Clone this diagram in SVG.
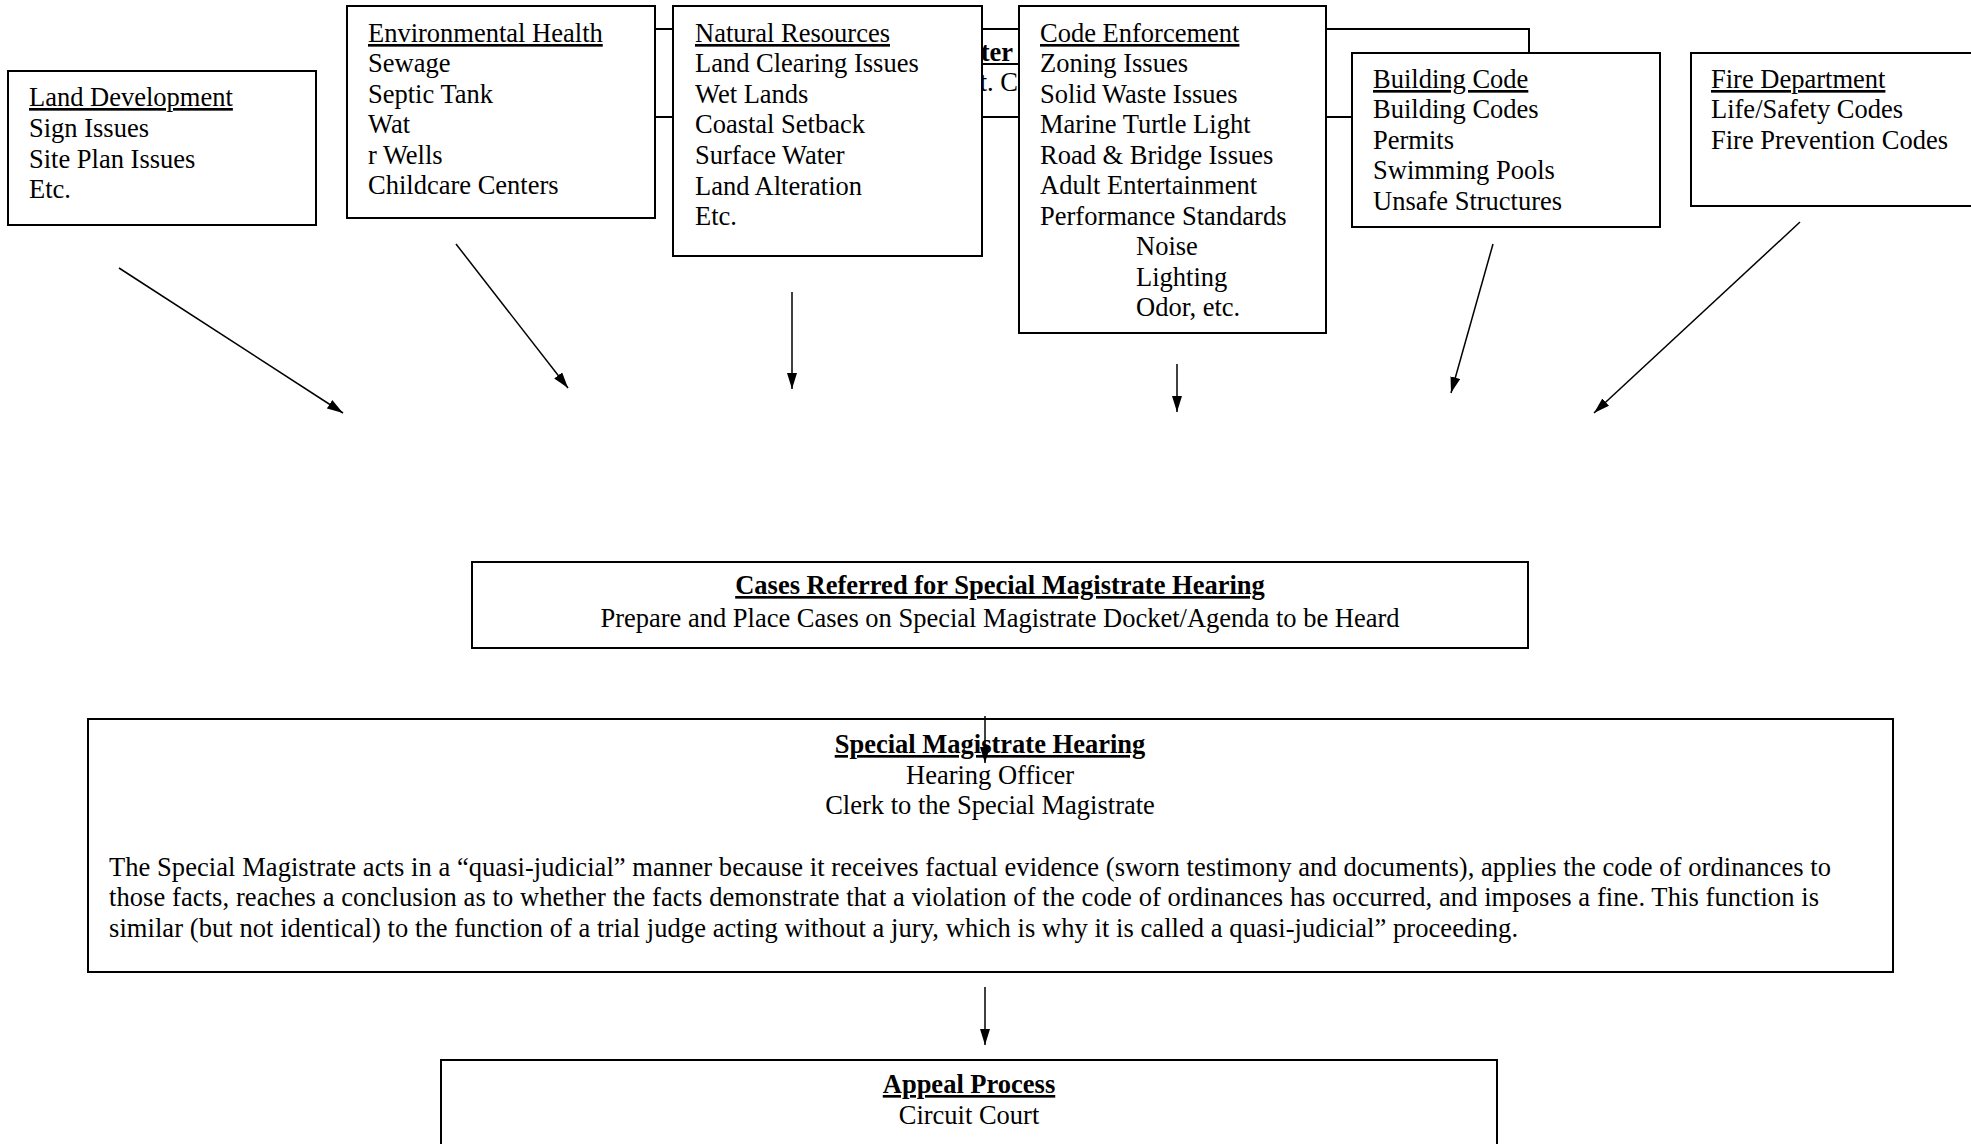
<svg xmlns="http://www.w3.org/2000/svg" width="1971" height="1144" viewBox="0 0 1971 1144">
<defs>
<style>
.box{fill:#fff;stroke:#000;stroke-width:2}
.t{font-family:"Liberation Serif","Times New Roman",serif;font-size:26.5px;fill:#000}
.h{text-decoration:underline}
.b{font-weight:bold;text-decoration:underline}
.c{text-anchor:middle}
.ln{stroke:#000;stroke-width:2;fill:none}
.ar{stroke:#000;stroke-width:1.5;fill:none;marker-end:url(#ah)}
</style>
<marker id="ah" markerUnits="userSpaceOnUse" markerWidth="16" markerHeight="10" refX="16" refY="5" orient="auto">
<path d="M0,0 L16,5 L0,10 z" fill="#000"/>
</marker>
</defs>
<rect width="1971" height="1144" fill="#fff"/>

<g id="hidden-center">
<rect class="box" x="500" y="29" width="1029" height="88"/>
<text class="t" x="1013" y="61" text-anchor="end" font-weight="bold">ter</text>
<line x1="975" y1="64" x2="1019" y2="64" stroke="#000" stroke-width="2"/>
<text class="t" x="1018" y="91" text-anchor="end">t. C</text>
</g>

<g id="land-development">
<rect class="box" x="8" y="71" width="308" height="154"/>
<text class="t" x="29"><tspan class="h" x="29" y="106">Land Development</tspan><tspan x="29" y="137">Sign Issues</tspan><tspan x="29" y="168">Site Plan Issues</tspan><tspan x="29" y="198">Etc.</tspan></text>
</g>

<g id="environmental-health">
<rect class="box" x="347" y="6" width="308" height="212"/>
<text class="t"><tspan class="h" x="368" y="42">Environmental Health</tspan><tspan x="368" y="72">Sewage</tspan><tspan x="368" y="103">Septic Tank</tspan><tspan x="368" y="133">Wat</tspan><tspan x="368" y="164">r Wells</tspan><tspan x="368" y="194">Childcare Centers</tspan></text>
</g>

<g id="natural-resources">
<rect class="box" x="673" y="6" width="309" height="250"/>
<text class="t"><tspan class="h" x="695" y="42">Natural Resources</tspan><tspan x="695" y="72">Land Clearing Issues</tspan><tspan x="695" y="103">Wet Lands</tspan><tspan x="695" y="133">Coastal Setback</tspan><tspan x="695" y="164">Surface Water</tspan><tspan x="695" y="195">Land Alteration</tspan><tspan x="695" y="225">Etc.</tspan></text>
</g>

<g id="code-enforcement">
<rect class="box" x="1019" y="6" width="307" height="327"/>
<text class="t"><tspan class="h" x="1040" y="42">Code Enforcement</tspan><tspan x="1040" y="72">Zoning Issues</tspan><tspan x="1040" y="103">Solid Waste Issues</tspan><tspan x="1040" y="133">Marine Turtle Light</tspan><tspan x="1040" y="164">Road &amp; Bridge Issues</tspan><tspan x="1040" y="194">Adult Entertainment</tspan><tspan x="1040" y="225">Performance Standards</tspan><tspan x="1136" y="255">Noise</tspan><tspan x="1136" y="286">Lighting</tspan><tspan x="1136" y="316">Odor, etc.</tspan></text>
</g>

<g id="building-code">
<rect class="box" x="1352" y="53" width="308" height="174"/>
<text class="t"><tspan class="h" x="1373" y="88">Building Code</tspan><tspan x="1373" y="118">Building Codes</tspan><tspan x="1373" y="149">Permits</tspan><tspan x="1373" y="179">Swimming Pools</tspan><tspan x="1373" y="210">Unsafe Structures</tspan></text>
</g>

<g id="fire-department">
<rect class="box" x="1691" y="53" width="300" height="153"/>
<text class="t"><tspan class="h" x="1711" y="88">Fire Department</tspan><tspan x="1711" y="118">Life/Safety Codes</tspan><tspan x="1711" y="149">Fire Prevention Codes</tspan></text>
</g>

<g id="cases-referred">
<rect class="box" x="472" y="562" width="1056" height="86"/>
<text class="t c" x="1000" y="594"><tspan class="b">Cases Referred for Special Magistrate Hearing</tspan></text>
<text class="t c" x="1000" y="627">Prepare and Place Cases on Special Magistrate Docket/Agenda to be Heard</text>
</g>

<g id="special-magistrate-hearing">
<rect class="box" x="88" y="719" width="1805" height="253"/>
<text class="t c" x="990" y="753"><tspan class="b">Special Magistrate Hearing</tspan></text>
<text class="t c" x="990" y="784">Hearing Officer</text>
<text class="t c" x="990" y="814">Clerk to the Special Magistrate</text>
<text class="t" x="109" y="876" textLength="1722" lengthAdjust="spacing">The Special Magistrate acts in a “quasi-judicial” manner because it receives factual evidence (sworn testimony and documents), applies the code of ordinances to</text>
<text class="t" x="109" y="906" textLength="1710" lengthAdjust="spacing">those facts, reaches a conclusion as to whether the facts demonstrate that a violation of the code of ordinances has occurred, and imposes a fine. This function is</text>
<text class="t" x="109" y="937" textLength="1409" lengthAdjust="spacing">similar (but not identical) to the function of a trial judge acting without a jury, which is why it is called a quasi-judicial” proceeding.</text>
</g>

<g id="appeal-process">
<rect class="box" x="441" y="1060" width="1056" height="100"/>
<text class="t c" x="969" y="1093"><tspan class="b">Appeal Process</tspan></text>
<text class="t c" x="969" y="1124">Circuit Court</text>
</g>

<g id="connectors">
<line class="ln" x1="1326" y1="29" x2="1529" y2="29"/>
<line class="ln" x1="1529" y1="29" x2="1529" y2="53"/>
<line class="ar" x1="119" y1="268" x2="343" y2="413"/>
<line class="ar" x1="456" y1="244" x2="568" y2="388"/>
<line class="ar" x1="792" y1="292" x2="792" y2="389"/>
<line class="ar" x1="1177" y1="364" x2="1177" y2="412"/>
<line class="ar" x1="1493" y1="244" x2="1451" y2="393"/>
<line class="ar" x1="1800" y1="222" x2="1594" y2="413"/>
<line class="ar" x1="985" y1="716" x2="985" y2="763"/>
<line class="ar" x1="985" y1="987" x2="985" y2="1045"/>
</g>
</svg>
